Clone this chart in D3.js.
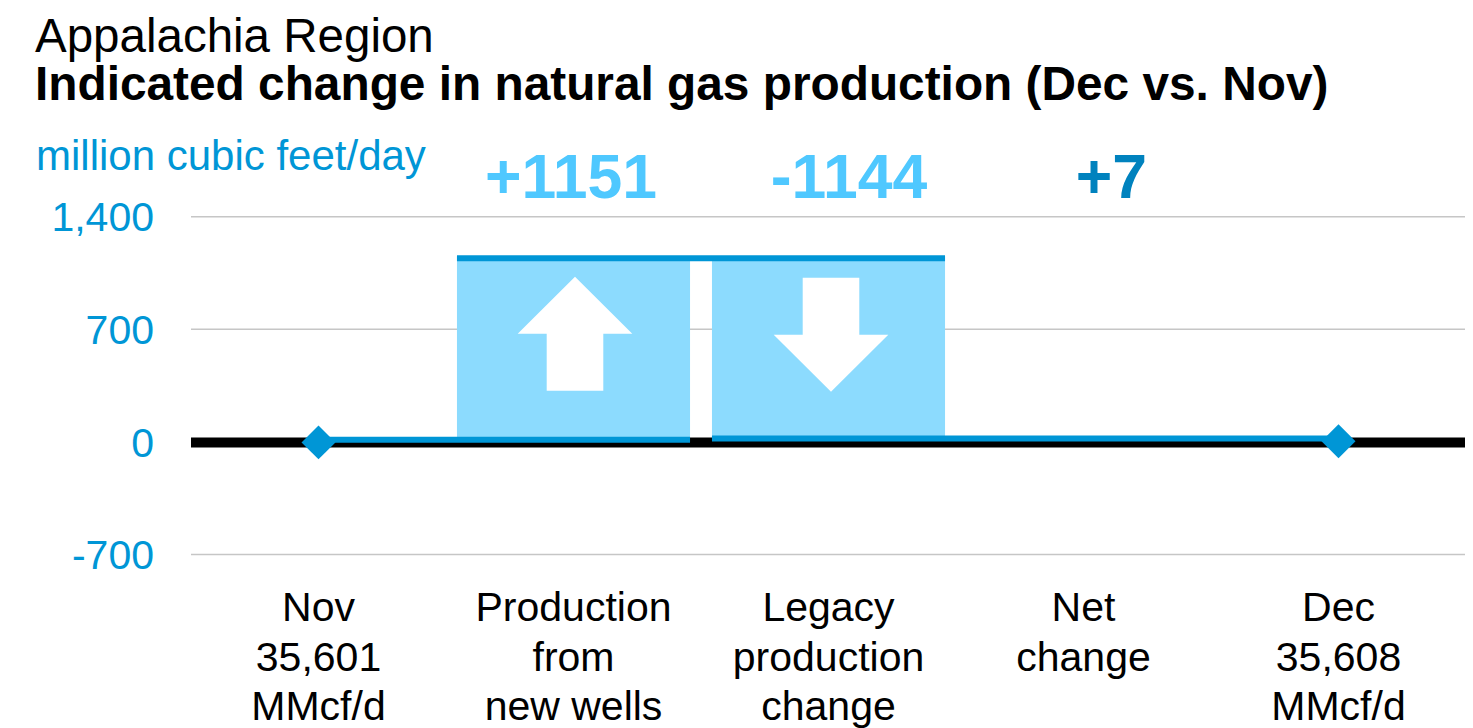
<!DOCTYPE html>
<html>
<head>
<meta charset="utf-8">
<script src="https://cdn.jsdelivr.net/npm/d3@7"></script>
<style>
  html, body { margin: 0; padding: 0; background: #fff; }
  svg { display: block; font-family: "Liberation Sans", Arial, sans-serif; }
</style>
</head>
<body>
<svg id="chart" width="1473" height="728"></svg>
<script>
// ---- data ----
const categories = ["Nov", "Production from new wells", "Legacy production change", "Net change", "Dec"];
const categoryLines = [
  ["Nov", "35,601", "MMcf/d"],
  ["Production", "from", "new wells"],
  ["Legacy", "production", "change"],
  ["Net", "change"],
  ["Dec", "35,608", "MMcf/d"]
];
const monthTotals = [35601, 35608];          // Nov, Dec (MMcf/d)
const stepChanges = [1151, -1144];           // new wells, legacy
const netChange = 7;
const valueLabels = ["+1151", "-1144", "+7"];
const yTicks = [-700, 0, 700, 1400];
const yTickLabels = ["-700", "0", "700", "1,400"];

// ---- styling ----
const C = {
  fill: "#8CDBFE",
  line: "#0096D6",
  tick: "#0096D6",
  grid: "#C6C6C6",
  lightLabel: "#4FC8FF",
  darkLabel: "#0082BE"
};

const svg = d3.select("#chart");
const x = d3.scaleBand().domain(categories).range([191, 1466]).paddingInner(0.086).paddingOuter(0.043);
const y = d3.scaleLinear().domain([-700, 1400]).range([554.5, 216.7]);
const bw = x.bandwidth();
const cx = c => x(c) + bw / 2;

// titles
svg.append("text").attr("x", 35).attr("y", 52).attr("font-size", 47.5).attr("fill", "#000").text("Appalachia Region");
svg.append("text").attr("x", 35).attr("y", 100).attr("font-size", 47.8).attr("font-weight", "bold").attr("fill", "#000")
  .text("Indicated change in natural gas production (Dec vs. Nov)");
svg.append("text").attr("x", 36).attr("y", 170).attr("font-size", 42).attr("fill", C.tick).text("million cubic feet/day");

// gridlines
svg.append("g").selectAll("line").data(yTicks.filter(d => d !== 0)).join("line")
  .attr("x1", 191).attr("x2", 1465)
  .attr("y1", d => y(d)).attr("y2", d => y(d))
  .attr("stroke", C.grid).attr("stroke-width", 1.5);

// y tick labels
svg.append("g").selectAll("text").data(yTicks).join("text")
  .attr("x", 154).attr("y", d => y(d)).attr("dy", "0.36em")
  .attr("text-anchor", "end").attr("font-size", 41).attr("fill", C.tick)
  .text((d, i) => yTickLabels[i]);

// waterfall computation (relative to Nov)
const level0 = 0;
const level1 = level0 + stepChanges[0];
const level2 = level1 + stepChanges[1];
const bars = [
  { cat: categories[1], from: level0, to: level1 },
  { cat: categories[2], from: level2, to: level1 },
  { cat: categories[3], from: 0, to: netChange }
];

svg.append("g").selectAll("rect").data(bars).join("rect")
  .attr("x", d => x(d.cat)).attr("width", bw)
  .attr("y", d => y(Math.max(d.from, d.to)))
  .attr("height", d => Math.max(1, Math.abs(y(d.from) - y(d.to))))
  .attr("fill", C.fill);

// arrows
function arrowPath(xc, yTop, up) {
  const hw = 57.3, sw = 28.3, headLen = 57, total = 114;
  if (up) {
    const a = yTop, b = yTop + headLen, e = yTop + total;
    return `M${xc},${a} L${xc + hw},${b} L${xc + sw},${b} L${xc + sw},${e} L${xc - sw},${e} L${xc - sw},${b} L${xc - hw},${b} Z`;
  } else {
    const s = yTop, b = yTop + headLen, a = yTop + total;
    return `M${xc - sw},${s} L${xc + sw},${s} L${xc + sw},${b} L${xc + hw},${b} L${xc},${a} L${xc - hw},${b} L${xc - sw},${b} Z`;
  }
}
svg.append("path").attr("d", arrowPath(cx(categories[1]) + 1.5, y(level1) + 20, true)).attr("fill", "#fff");
svg.append("path").attr("d", arrowPath(cx(categories[2]) + 2.5, y(level1) + 21, false)).attr("fill", "#fff");

// zero axis
svg.append("line").attr("x1", 191).attr("x2", 1465).attr("y1", y(0) + 0.5).attr("y2", y(0) + 0.5)
  .attr("stroke", "#000").attr("stroke-width", 10);

// level connector lines
const segs = [
  { x1: cx(categories[0]), x2: x(categories[1]) + bw, v: level0 },
  { x1: x(categories[1]), x2: x(categories[2]) + bw, v: level1 },
  { x1: x(categories[2]), x2: cx(categories[4]), v: level2 }
];
svg.append("g").selectAll("line").data(segs).join("line")
  .attr("x1", d => d.x1).attr("x2", d => d.x2)
  .attr("y1", (d, i) => y(d.v) + (i === 1 ? 1.5 : -2.2))
  .attr("y2", (d, i) => y(d.v) + (i === 1 ? 1.5 : -2.2))
  .attr("stroke", C.line).attr("stroke-width", 6);

// diamonds (Nov and Dec)
const diamonds = [
  { cat: categories[0], v: monthTotals[0] - monthTotals[0] },
  { cat: categories[4], v: monthTotals[1] - monthTotals[0] }
];
svg.append("g").selectAll("path").data(diamonds).join("path")
  .attr("d", d3.symbol().type(d3.symbolSquare).size(24 * 24))
  .attr("transform", d => `translate(${cx(d.cat)},${y(d.v) + 0.5}) rotate(45)`)
  .attr("fill", C.line);

// value labels
const labelDx = [-2.5, 20.5, 28];
const labelColors = [C.lightLabel, C.lightLabel, C.darkLabel];
svg.append("g").selectAll("text").data(valueLabels).join("text")
  .attr("x", (d, i) => cx(categories[i + 1]) + labelDx[i])
  .attr("y", 198).attr("text-anchor", "middle")
  .attr("font-size", 62.5).attr("font-weight", "bold")
  .attr("fill", (d, i) => labelColors[i])
  .text(d => d);

// category labels
const catG = svg.append("g").selectAll("text").data(categories).join("text")
  .attr("text-anchor", "middle").attr("font-size", 41).attr("fill", "#000");
catG.each(function(c, i) {
  d3.select(this).selectAll("tspan").data(categoryLines[i]).join("tspan")
    .attr("x", cx(c)).attr("y", (d, j) => 621 + j * 49.5).text(d => d);
});
</script>
</body>
</html>
